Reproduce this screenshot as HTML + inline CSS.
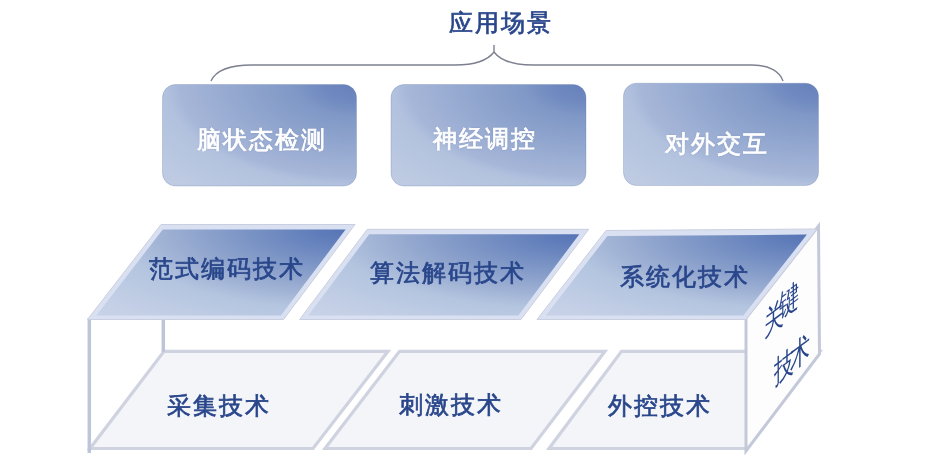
<!DOCTYPE html>
<html><head><meta charset="utf-8">
<style>
html,body{margin:0;padding:0;background:#fff;}
body{width:927px;height:467px;position:relative;overflow:hidden;font-family:"Liberation Sans",sans-serif;}
svg{position:absolute;left:0;top:0;}
.t{position:absolute;white-space:nowrap;line-height:1;font-size:24px;letter-spacing:2px;color:#29468b;-webkit-text-stroke:0.7px #29468b;}
.s{-webkit-text-stroke:0;letter-spacing:0;font-size:20px;width:20px;height:20px;line-height:20px;transform-origin:50% 50%;transform:matrix(1,-0.75,0,1.6,0,0);}
.w{color:#fff;-webkit-text-stroke:0.8px #fff;text-shadow:0 0 1.5px rgba(60,80,130,0.55);}
</style></head><body><div id="wrap" style="position:absolute;left:0;top:0;width:927px;height:467px;filter:blur(0.35px);background:#fff">
<svg width="927" height="467" viewBox="0 0 927 467">
<defs>
<radialGradient id="gb" cx="1" cy="0" r="1.42" gradientUnits="objectBoundingBox">
<stop offset="0" stop-color="#6580ba"/>
<stop offset="0.123" stop-color="#7089c0"/>
<stop offset="0.224" stop-color="#7f98c6"/>
<stop offset="0.64" stop-color="#a6b6d8"/>
<stop offset="0.70" stop-color="#b2c2de"/>
<stop offset="0.92" stop-color="#bdcae2"/>
<stop offset="1" stop-color="#c0cce4"/>
</radialGradient>
<radialGradient id="gt" cx="1" cy="0" r="1.42" gradientUnits="objectBoundingBox">
<stop offset="0" stop-color="#5673b5"/>
<stop offset="0.082" stop-color="#5f7cba"/>
<stop offset="0.30" stop-color="#7d96c6"/>
<stop offset="0.51" stop-color="#9eb0d3"/>
<stop offset="0.65" stop-color="#b4c5e0"/>
<stop offset="0.91" stop-color="#c5d0e6"/>
<stop offset="1" stop-color="#c8d2e8"/>
</radialGradient>
</defs>
<!-- brace -->
<path d="M211,81 C216,70 232,65 252,65 L455,65 C475,65 488,60 494,52 C500,60 513,65 533,65 L752,65 C770,65 780,72 783,81 M494,52 L494,45" fill="none" stroke="#7d8090" stroke-width="1.4"/>
<!-- top boxes -->
<g stroke="rgba(95,115,165,0.35)" stroke-width="0.8">
<rect x="162.5" y="84.5" width="194" height="101.5" rx="13" fill="url(#gb)"/>
<rect x="391" y="84.5" width="195" height="101.5" rx="13" fill="url(#gb)"/>
<rect x="623.5" y="83.2" width="195" height="102.3" rx="13" fill="url(#gb)"/>
</g>

<!-- bottom tiles -->
<g fill="#f3f5f9" stroke="#cfd3e0" stroke-width="3.2" stroke-linejoin="miter">
<path d="M164,351.3 L388,351.3 L313,448.5 L90,448.5 Z"/>
<path d="M399.5,351.3 L605,351.3 L531,448.5 L325,448.5 Z"/>
<path d="M621.5,351.3 L820,351.3 L746,448.5 L549,448.5 Z"/>
</g>
<!-- box edges -->
<g fill="none" stroke="#bec5d8" stroke-width="3.5">
<line x1="89.3" y1="318" x2="89.3" y2="453"/>
<line x1="163.3" y1="318" x2="163.3" y2="352"/>
</g>
<!-- side face -->
<path d="M746,318 L818.5,226 L819.5,354 L746,451 Z" fill="#fdfdfe" stroke="#c4c9da" stroke-width="3" stroke-linejoin="miter"/>
<!-- top face tiles -->
<g stroke="#c9cfde" stroke-width="1" fill="#d9e0f1">
<path d="M161.0,224.5 L355.0,224.5 L283.5,319.5 L87.5,319.5 Z"/>
<path d="M367.3,229.3 L588.7,229.3 L521.0,319.5 L299.6,319.5 Z"/>
<path d="M606.0,230.5 L817.0,229.0 L746.0,319.5 L537.0,319.5 Z"/>
</g>
<path d="M162.8,229.5 L345.6,229.5 L280.9,315.5 L96.3,315.5 Z" fill="url(#gt)"/>
<path d="M369.2,234.3 L579.3,234.3 L518.4,315.5 L308.2,315.5 Z" fill="url(#gt)"/>
<path d="M607.4,236.0 L806.9,234.6 L743.4,315.5 L545.8,315.5 Z" fill="url(#gt)"/>
</svg>

<div class="t w" style="left:197.1px;top:128.2px;">脑状态检测</div>
<div class="t w" style="left:433.1px;top:127.3px;">神经调控</div>
<div class="t w" style="left:665.2px;top:131.7px;">对外交互</div>
<div class="t" style="left:448.6px;top:11.1px;">应用场景</div>

<div class="t" style="left:149.1px;top:257.0px;">范式编码技术</div>
<div class="t" style="left:369.7px;top:260.6px;">算法解码技术</div>
<div class="t" style="left:619.8px;top:265.0px;">系统化技术</div>

<div class="t" style="left:167.2px;top:393.7px;">采集技术</div>
<div class="t" style="left:398.9px;top:393.0px;">刺激技术</div>
<div class="t" style="left:607.5px;top:393.6px;">外控技术</div>

<div class="t s" style="left:763.5px;top:307.6px;">关</div>
<div class="t s" style="left:779.4px;top:290.0px;">键</div>
<div class="t s" style="left:773.5px;top:355.5px;">技</div>
<div class="t s" style="left:790.0px;top:342.1px;">术</div>
</div></body></html>
